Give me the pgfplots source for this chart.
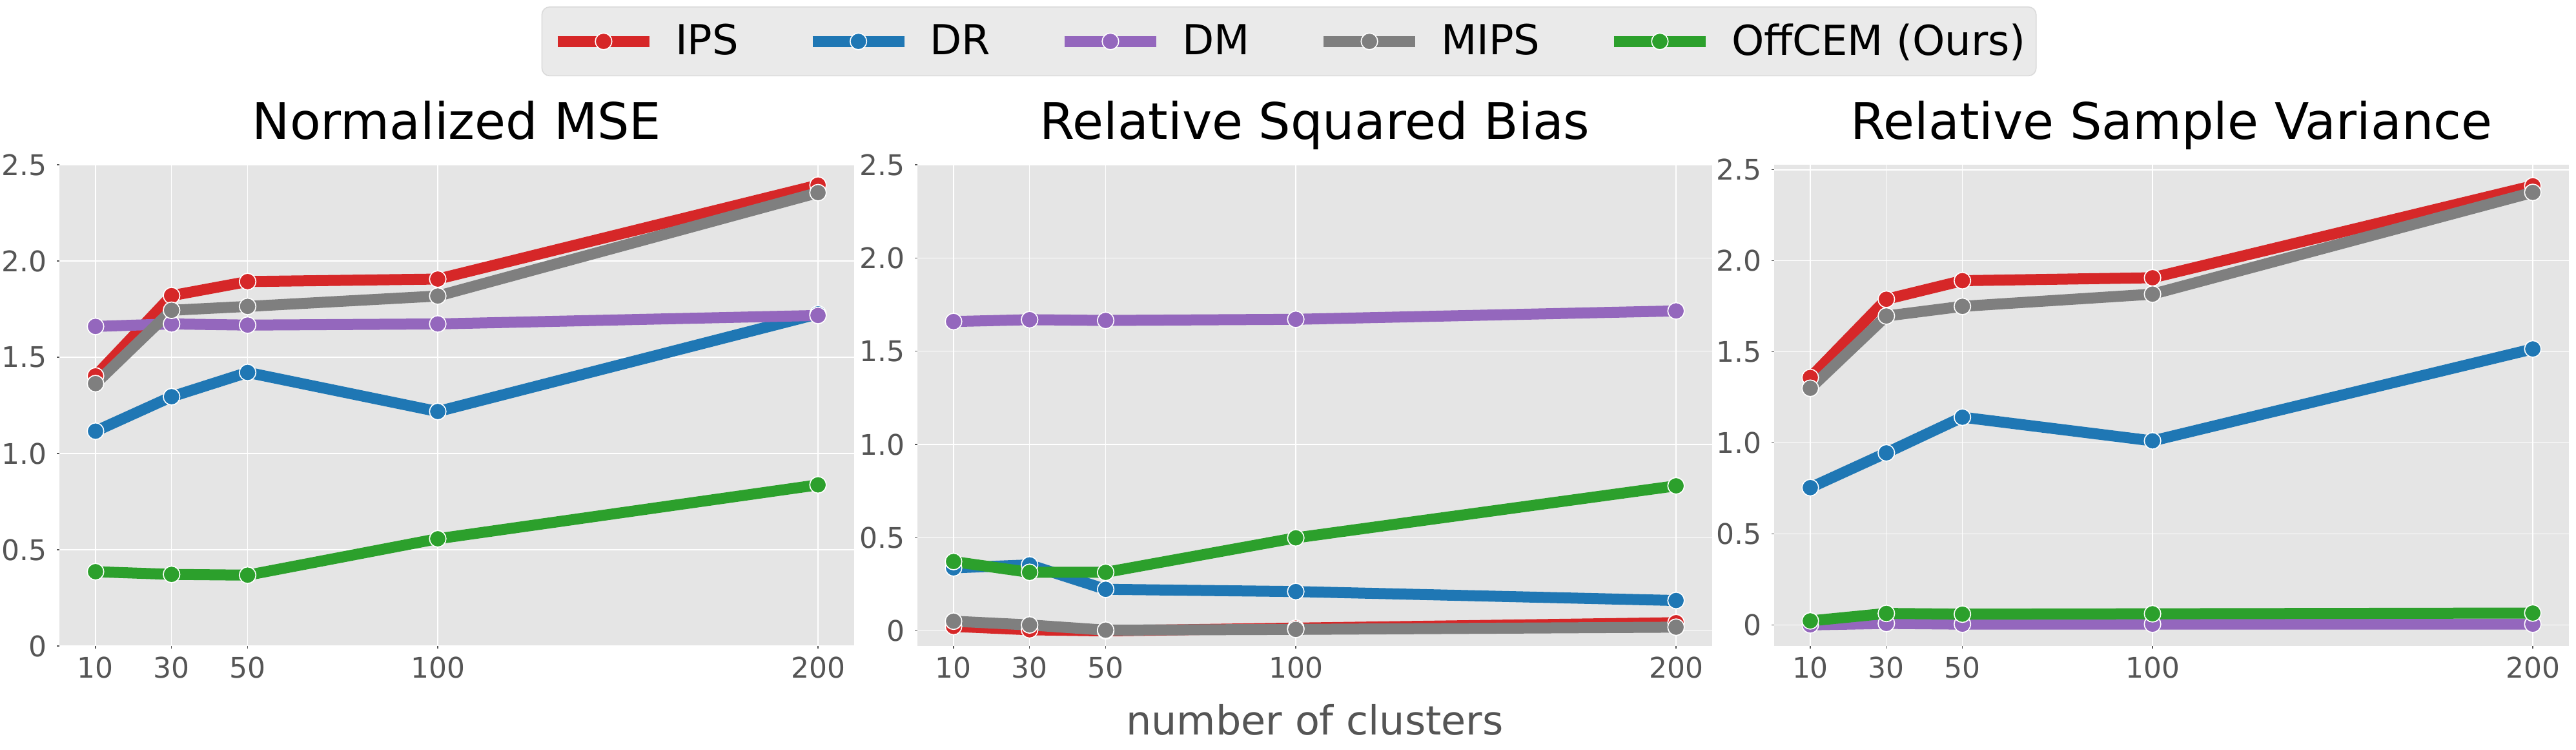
\documentclass[border=0pt]{standalone}
\usepackage{fontspec}
\setmainfont{DejaVu Sans}
\usepackage{pgfplots}
\usepackage{pgfplotstable}
\pgfplotsset{compat=1.18}

\definecolor{cIPS}{HTML}{D62728}
\definecolor{cDR}{HTML}{1F77B4}
\definecolor{cDM}{HTML}{9467BD}
\definecolor{cMIPS}{HTML}{7F7F7F}
\definecolor{cOFF}{HTML}{2CA02C}
\definecolor{bgc}{HTML}{E5E5E5}
\definecolor{tickc}{HTML}{555555}
\definecolor{legbg}{HTML}{EAEAEA}
\definecolor{legedge}{HTML}{DADADA}

% normalized MSE
\pgfplotstableread{
x   ips    dr     dm     mips   off
10  1.403  1.116  1.660  1.363  0.386
30  1.820  1.295  1.673  1.744  0.372
50  1.893  1.421  1.667  1.764  0.368
100 1.906  1.218  1.673  1.818  0.557
200 2.394  1.725  1.717  2.355  0.837
}\mse
% relative squared bias
\pgfplotstableread{
x   ips    dr     dm     mips   off
10  0.024  0.338  1.659  0.052  0.372
30  0.006  0.354  1.669  0.032  0.314
50  0.000  0.223  1.665  0.004  0.314
100 0.015  0.211  1.671  0.008  0.499
200 0.044  0.163  1.716  0.020  0.778
}\bias
% relative sample variance
\pgfplotstableread{
x   ips    dr     dm     mips   off
10  1.359  0.754  0.000  1.300  0.022
30  1.789  0.945  0.008  1.697  0.063
50  1.891  1.141  0.004  1.750  0.059
100 1.907  1.011  0.004  1.817  0.061
200 2.412  1.516  0.004  2.376  0.065
}\var

\pgfplotsset{
  panel/.style={
    scale only axis, width=307.75pt, height=186.25pt,
    anchor=south west,
    xmin=0.5, xmax=209.5,
    xtick={10,30,50,100,200},
    xticklabels={10,30,50,100,200},
    ytick={0,0.5,1,1.5,2,2.5},
    yticklabels={0,0.5,1.0,1.5,2.0,2.5},
    /pgf/number format/assume math mode=true,
    axis background/.style={fill=bgc},
    axis line style={draw=none},
    grid=major, major grid style={white, line width=0.35pt},
    tick align=outside, tick pos=left, major tick length=1pt,
    tick style={color=tickc, line width=0.3pt},
    tick label style={font=\fontsize{11}{13}\selectfont, color=tickc, inner sep=0pt},
    xticklabel style={yshift=-2.9pt},
    yticklabel style={xshift=-3.6pt},
    title style={font=\fontsize{19.5}{22}\selectfont, at={(axis description cs:0.5,1)},
      anchor=base, yshift=4pt, inner sep=0pt},
    legend image code/.code={
      \draw[mark repeat=2, mark phase=2, line cap=butt, #1]
        plot coordinates {(0pt,0pt) (17.75pt,0pt) (35.5pt,0pt)};
    },
  },
  ser/.style={color=#1, line width=4.25pt, line join=round,
    mark=*, mark size=3.2pt,
    mark options={fill=#1, draw=white, line width=0.4pt}},
}

\begin{document}
\begin{tikzpicture}
\useasboundingbox (0,0) rectangle (997.5pt,290pt);

\begin{axis}[panel, at={(23pt,40pt)}, ymin=0, ymax=2.5,
  title={Normalized MSE},
  legend columns=5,
  legend style={at={(axis description cs:1.5472,1.3289)}, anchor=north,
    fill=legbg, draw=legedge, rounded corners=3pt,
    inner xsep=4pt, inner ysep=6.5pt,
    font=\fontsize{16}{19}\selectfont,
    /tikz/every odd column/.append style={column sep=7.9pt},
    /tikz/every even column/.append style={column sep=26.5pt},
    nodes={inner sep=0pt, anchor=west}},
]
\addplot[ser=cIPS] table[x=x, y=ips] {\mse};
\addplot[ser=cDR] table[x=x, y=dr] {\mse};
\addplot[ser=cDM] table[x=x, y=dm] {\mse};
\addplot[ser=cMIPS] table[x=x, y=mips] {\mse};
\addplot[ser=cOFF] table[x=x, y=off] {\mse};
\legend{IPS, DR, DM, MIPS, OffCEM (Ours)}
\end{axis}

\begin{axis}[panel, at={(355.25pt,40pt)}, ymin=-0.081, ymax=2.5,
  title={Relative Squared Bias},
  xlabel={number of clusters},
  xlabel style={at={(axis description cs:0.5,0)}, anchor=base, yshift=-34.25pt,
    font=\fontsize{15.5}{18}\selectfont, color=tickc, inner sep=0pt},
]
\addplot[ser=cIPS] table[x=x, y=ips] {\bias};
\addplot[ser=cDR] table[x=x, y=dr] {\bias};
\addplot[ser=cDM] table[x=x, y=dm] {\bias};
\addplot[ser=cMIPS] table[x=x, y=mips] {\bias};
\addplot[ser=cOFF] table[x=x, y=off] {\bias};
\end{axis}

\begin{axis}[panel, at={(687pt,40pt)}, ymin=-0.116, ymax=2.528,
  title={Relative Sample Variance},
]
\addplot[ser=cIPS] table[x=x, y=ips] {\var};
\addplot[ser=cDR] table[x=x, y=dr] {\var};
\addplot[ser=cDM] table[x=x, y=dm] {\var};
\addplot[ser=cMIPS] table[x=x, y=mips] {\var};
\addplot[ser=cOFF] table[x=x, y=off] {\var};
\end{axis}
\end{tikzpicture}
\end{document}
